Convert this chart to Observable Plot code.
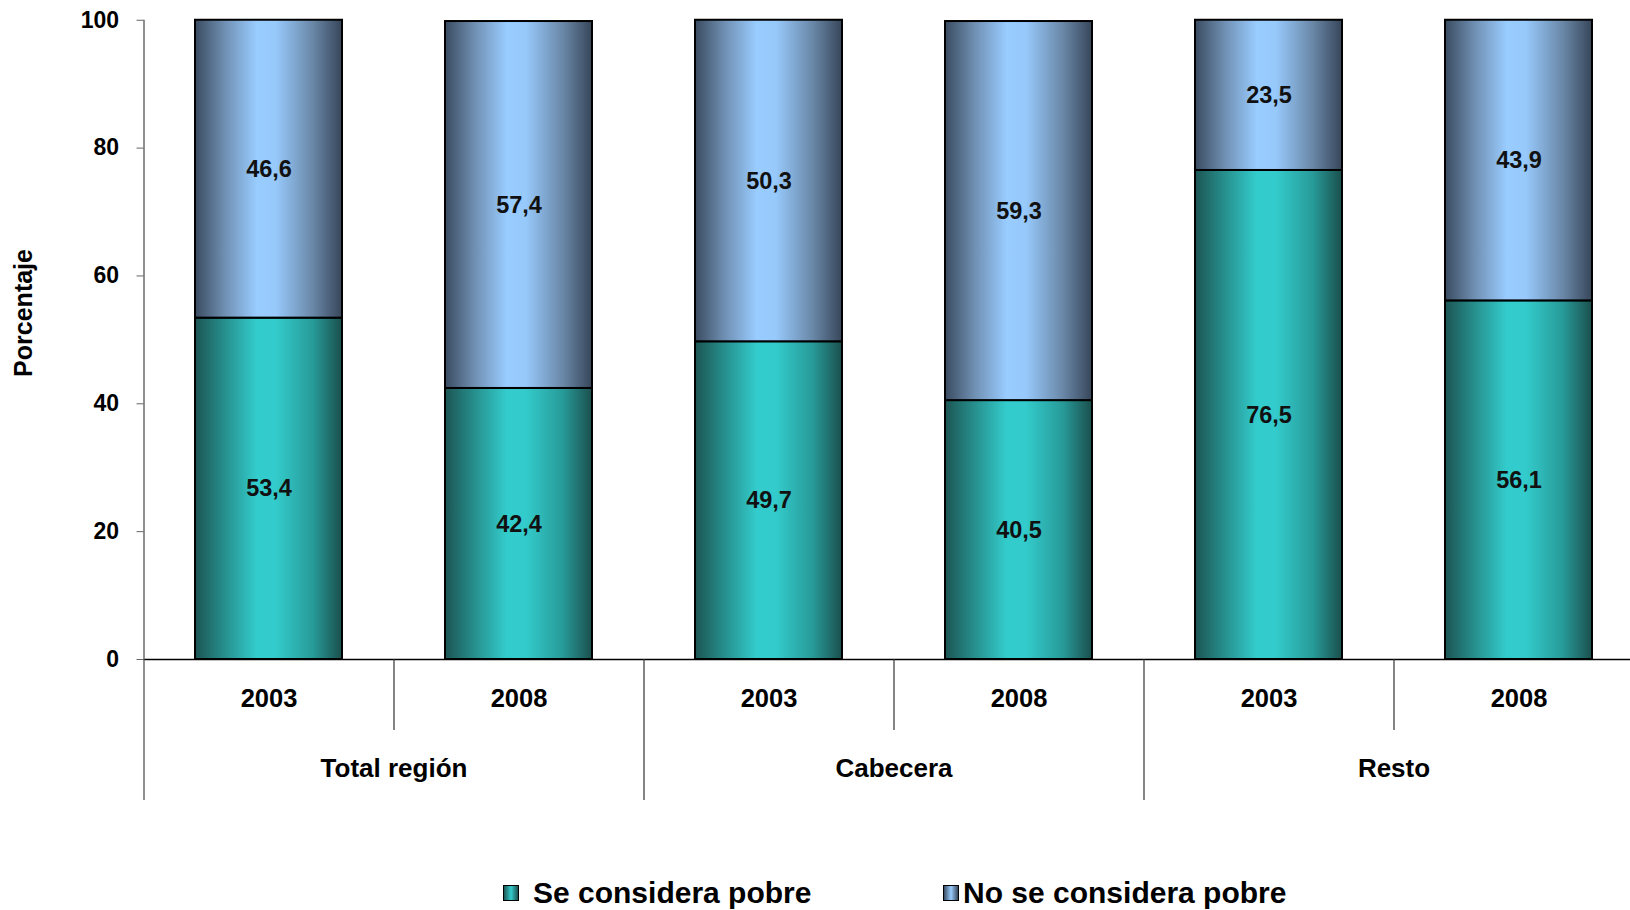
<!DOCTYPE html>
<html><head><meta charset="utf-8">
<script src="https://cdn.jsdelivr.net/npm/d3@7"></script>
<script src="https://cdn.jsdelivr.net/npm/@observablehq/plot@0.6"></script>
<style>
html,body{margin:0;padding:0;background:#fff;overflow:hidden;}
#wrap{position:relative;width:1630px;height:910px;}
.legend{position:absolute;top:875px;height:36px;display:flex;align-items:center;font-family:"Liberation Sans",Arial,sans-serif;font-weight:bold;font-size:30px;color:#000;white-space:nowrap;}
.sw{display:inline-block;width:14px;height:14px;border:1.5px solid #000;margin-right:14px;}
</style>
</head><body><div id="wrap"></div>
<script>
const groups = ["Total región","Total región","Cabecera","Cabecera","Resto","Resto"];
const years = ["2003","2008","2003","2008","2003","2008"];
const pobre = [53.4,42.4,49.7,40.5,76.5,56.1];
const noPobre = [46.6,57.4,50.3,59.3,23.5,43.9];
const seriesNames = ["Se considera pobre","No se considera pobre"];
const yTicks = [0,20,40,60,80,100];
const groupNames = ["Total región","Cabecera","Resto"];

const FONT = '"Liberation Sans", Arial, sans-serif';
const keys = groups.map((g,i)=> g + " " + years[i]);
const rows = keys.map((k,i)=>({
  key:k, year:years[i], group:groups[i],
  p:pobre[i], n:noPobre[i], top:pobre[i]+noPobre[i]
}));
const labels = [];
rows.forEach(r=>{
  labels.push({key:r.key, y:r.p/2, t:d3.format(".1f")(r.p).replace(".",",")});
  labels.push({key:r.key, y:r.p + r.n/2, t:d3.format(".1f")(r.n).replace(".",",")});
});
const groupFirst = groupNames.map(g=>({g, key: keys[groups.indexOf(g)]}));

const defs = () => {
  const g = document.createElementNS("http://www.w3.org/2000/svg","g");
  g.innerHTML = `<defs>
   <linearGradient id="gT" x1="0" x2="1" y1="0" y2="0">
     <stop offset="0" stop-color="#1c5553"/>
     <stop offset="0.2" stop-color="#268f8d"/>
     <stop offset="0.42" stop-color="#33cccc"/>
     <stop offset="0.55" stop-color="#33cbcb"/>
     <stop offset="0.8" stop-color="#279b99"/>
     <stop offset="1" stop-color="#1b4f4d"/>
   </linearGradient>
   <linearGradient id="gB" x1="0" x2="1" y1="0" y2="0">
     <stop offset="0" stop-color="#3a4b60"/>
     <stop offset="0.2" stop-color="#6f8fb2"/>
     <stop offset="0.42" stop-color="#99ccff"/>
     <stop offset="0.55" stop-color="#97c9fb"/>
     <stop offset="0.8" stop-color="#6a88a8"/>
     <stop offset="1" stop-color="#37465a"/>
   </linearGradient></defs>`;
  return g;
};

const plot = Plot.plot({
  width:1630, height:910,
  marginLeft:143.5, marginRight:0, marginTop:19.75, marginBottom:251,
  style:{fontFamily:FONT, background:"#fff"},
  x:{type:"band", domain:keys, range:[143.5,1643.5], paddingInner:0.412, paddingOuter:0.206, axis:null},
  y:{domain:[0,100], range:[659,19.75], axis:null},
  marks:[
    defs,
    Plot.barY(rows,{x:"key", y1:0, y2:"p", fill:"url(#gT)", stroke:"#000", strokeWidth:2}),
    Plot.barY(rows,{x:"key", y1:"p", y2:"top", fill:"url(#gB)", stroke:"#000", strokeWidth:2}),
    Plot.ruleY([0],{stroke:"#000", strokeWidth:1.3}),
    Plot.axisY({ticks:yTicks, tickSize:7, tickPadding:18, fontSize:23, fontWeight:"bold", label:null, stroke:"#666", color:"#000", tickFormat:d=>String(d)}),
    Plot.ruleX([keys[0]],{dx:-125, insetBottom:-141, stroke:"#555", strokeWidth:1.3}),
    Plot.ruleX(keys.filter((k,i)=>i%2===0 && i>0),{dx:-125, insetTop:639.25, insetBottom:-141, stroke:"#333", strokeWidth:1.2}),
    Plot.ruleX(keys.filter((k,i)=>i%2===1),{dx:-125, insetTop:639.25, insetBottom:-71, stroke:"#333", strokeWidth:1.2}),
    Plot.text(labels,{x:"key", y:"y", text:"t", fontSize:23.5, fontWeight:"bold", fill:"#111"}),
    Plot.text(rows,{x:"key", text:"year", frameAnchor:"bottom", dy:47, fontSize:25.5, fontWeight:"bold", fill:"#000"}),
    Plot.text(groupFirst,{x:"key", text:"g", frameAnchor:"bottom", dx:125, dy:117, fontSize:26, fontWeight:"bold", fill:"#000"}),
    Plot.text(["Porcentaje"],{text:d=>d, frameAnchor:"left", dx:-120, dy:37, rotate:-90, fontSize:25, fontWeight:"bold", fill:"#000"})
  ]
});
const wrap = document.getElementById("wrap");
wrap.appendChild(plot);

const legendPos = [503, 943];
const legendFill = ["linear-gradient(90deg,#1c5553,#33cccc 50%,#1b4f4d)","linear-gradient(90deg,#3a4b60,#99ccff 50%,#37465a)"];
seriesNames.forEach((s,i)=>{
  const d = document.createElement("div");
  d.className = "legend";
  d.style.left = legendPos[i] + "px";
  const sw = document.createElement("span");
  sw.className = "sw";
  sw.style.background = legendFill[i];
  if (i===1) sw.style.marginRight = "4px";
  d.appendChild(sw);
  d.appendChild(document.createTextNode(s));
  wrap.appendChild(d);
});
</script>
</body></html>
